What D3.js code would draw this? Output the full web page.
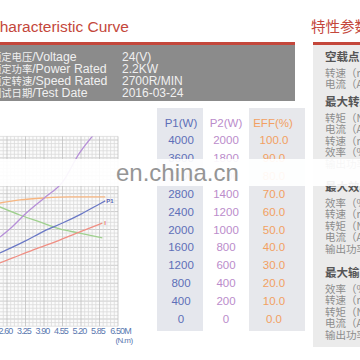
<!DOCTYPE html>
<html><head><meta charset="utf-8">
<script src="https://cdn.jsdelivr.net/npm/d3@7"></script>
<style>
body{margin:0;background:#fff}
svg{display:block}
text{font-family:"Liberation Sans",Arial,"Noto Sans CJK SC",sans-serif}
.cjk{font-family:"Noto Sans CJK SC",sans-serif}
</style>
</head><body><svg id="c" width="360" height="360"></svg>
<script>
// ---------- data ----------
const titleText = "Characteristic Curve";
const panelTitle = "特性参数";
const specLabelsCn = ["额定电压","额定功率","额定转速","测试日期"];
const specLabelsEn = ["/Voltage","/Power Rated","/Speed Rated","/Test Date"];
const specValues = ["24(V)","2.2KW","2700R/MIN","2016-03-24"];

const torqueTicks = [2.60,3.25,3.90,4.55,5.20,5.85,6.50];
const torqueTickLabels = ["2.60","3.25","3.90","4.55","5.20","5.85","6.50M"];
const torqueUnit = "(N.m)";

const tableHeaders = ["P1(W)","P2(W)","EFF(%)"];
const p1Ticks = [4000,3600,3200,2800,2400,2000,1600,1200,800,400,0];
const p2Ticks = [2000,1800,1600,1400,1200,1000,800,600,400,200,0];
const effTicks = [100,90,80,70,60,50,40,30,20,10,0];

// curves (torque in N.m)
const p1Torque = [2.35,3.25,3.90,4.55,5.20,5.85,6.05];
const p1Values = [1475,1745,1965,2145,2345,2570,2640];          // W
const p2Torque = [2.35,2.70,3.25,3.90,4.55,5.15,5.70];
const p2Values = [915,1005,1175,1350,1530,1855,2080];           // W
const effTorque = [2.35,3.05,3.90,4.80,6.05];
const effValues = [64.8,66.5,67.6,68.2,68.2];                   // %
const speedTorque = [2.35,3.05,3.75,4.45,5.15,5.95];
const speedValues = [62.6,58.1,54.2,50.3,48.0,45.3];            // % of chart height
const currentTorque = [2.35,2.80,3.50,4.20,5.05,5.95];
const currentValues = [31.3,34.1,38.5,42.5,48.0,53.6];          // % of chart height

const panelSections = ["空载点","最大转矩点","最大效率点","最大输出功率点"];
const panelItems = [
  ["转速（r/min）","电流（A）"],
  ["转矩（N.m）","电流（A）","转速（r/min）","效率（%）","输出功率（W）"],
  ["效率（%）","转速（r/min）","转矩（N.m）","电流（A）","输出功率（W）"],
  ["效率（%）","转速（r/min）","转矩（N.m）","电流（A）","输出功率（W）"]
];
const watermark = "en.china.cn";

// ---------- drawing ----------
const svg = d3.select("#c");
const red = "#c4473b";

// title
svg.append("text").attr("x",-11.5).attr("y",32).attr("font-size",15.5)
  .attr("fill",red).text(titleText);
svg.append("text").attr("class","cjk").attr("x",311).attr("y",32).attr("font-size",14.5)
  .attr("fill",red).text(panelTitle);
svg.append("rect").attr("x",0).attr("y",42).attr("width",295).attr("height",3).attr("fill",red);
svg.append("rect").attr("x",313).attr("y",42).attr("width",47).attr("height",3).attr("fill",red);

// spec box
svg.append("rect").attr("x",0).attr("y",45).attr("width",295).attr("height",56).attr("fill","#8b8b8b");
specLabelsCn.forEach((cn,i)=>{
  const yb = 61 + i*11.9;
  const t = svg.append("text").attr("x",-9).attr("y",yb).attr("fill","#f0f0f0");
  t.append("tspan").attr("class","cjk").attr("font-size",10.3).text(cn);
  t.append("tspan").attr("font-size",12.3).text(specLabelsEn[i]);
  svg.append("text").attr("x",122).attr("y",yb).attr("font-size",12).attr("fill","#f0f0f0").text(specValues[i]);
});

// right panel
svg.append("rect").attr("x",313).attr("y",45).attr("width",47).attr("height",302).attr("fill","#ebebeb");
const headerY = [61,106,191,277];
panelSections.forEach((s,i)=>{
  svg.append("text").attr("class","cjk").attr("x",325).attr("y",headerY[i]).attr("font-size",11.5)
    .attr("font-weight","bold").attr("fill","#555").text(s);
  panelItems[i].forEach((it,j)=>{
    svg.append("text").attr("class","cjk").attr("x",325).attr("y",headerY[i]+15.5+j*11.6)
      .attr("font-size",10.5).attr("fill","#8d8d8d").text(it);
  });
});

// scales
const x = d3.scaleLinear().domain([2.60,6.50]).range([7,118]);
const yEff = d3.scaleLinear().domain([0,100]).range([319,140]);
const yP1 = d3.scaleLinear().domain([0,4000]).range([319,140]);
const yP2 = d3.scaleLinear().domain([0,2000]).range([319,140]);

// table column backgrounds
svg.append("rect").attr("x",157).attr("y",108).attr("width",46).attr("height",223).attr("fill","#e5e7ed");
svg.append("rect").attr("x",249).attr("y",108).attr("width",56).attr("height",223).attr("fill","#e7e8ec");

// grid
const gTop = yEff(102), gBot = yEff(-4);
const grid = svg.append("g");
grid.append("rect").attr("x",0).attr("y",gTop).attr("width",118).attr("height",gBot-gTop).attr("fill","#fbfbfb");
d3.range(-4,103,2).forEach(p=>{
  grid.append("line").attr("x1",0).attr("x2",118).attr("y1",yEff(p)).attr("y2",yEff(p))
    .attr("stroke", p%10===0 ? "#c0c0c0" : "#dadada").attr("stroke-width",0.8);
});
d3.range(0,36).forEach(i=>{
  const t = 6.50 - i*0.13;
  const xx = x(t);
  if (xx < -1) return;
  grid.append("line").attr("x1",xx).attr("x2",xx).attr("y1",gTop).attr("y2",gBot)
    .attr("stroke", i%5===0 ? "#c0c0c0" : "#dadada").attr("stroke-width",0.8);
});

// curves
const clip = svg.append("clipPath").attr("id","gc");
clip.append("rect").attr("x",0).attr("y",gTop).attr("width",118).attr("height",gBot-gTop);
const curveG = svg.append("g").attr("clip-path","url(#gc)");
function drawCurve(ts, vs, ys, color){
  const line = d3.line().x((d,i)=>x(ts[i])).y(d=>ys(d)).curve(d3.curveMonotoneX);
  curveG.append("path").attr("d",line(vs)).attr("fill","none").attr("stroke",color).attr("stroke-width",1.3);
}
drawCurve(effTorque, effValues, yEff, "#f7b681");
drawCurve(speedTorque, speedValues, yEff, "#9fd08e");
drawCurve(currentTorque, currentValues, yEff, "#f08f84");
drawCurve(p1Torque, p1Values, yP1, "#6b79c6");
drawCurve(p2Torque, p2Values, yP2, "#b68fd8");

svg.append("text").attr("x",x(p1Torque[p1Torque.length-1])+1).attr("y",yP1(p1Values[p1Values.length-1])+2)
  .attr("font-size",6).attr("font-weight","bold").attr("fill","#5a66b8").text("P1");
svg.append("text").attr("x",x(currentTorque[currentTorque.length-1])+2).attr("y",yEff(currentValues[currentValues.length-1])+2)
  .attr("font-size",6).attr("font-weight","bold").attr("fill","#e8776c").text("I");

// x axis
const ax = svg.append("g").attr("transform","translate(0,325)")
  .call(d3.axisBottom(x).tickValues(torqueTicks).tickSize(0).tickPadding(3)
    .tickFormat((d,i)=>torqueTickLabels[i]));
ax.select(".domain").remove();
ax.selectAll("text").attr("font-size",9).attr("letter-spacing",-0.9).attr("fill","#5a78b0")
  .attr("font-family","'Liberation Sans Narrow','Liberation Sans',Arial,sans-serif")
  .attr("dx",(d,i)=> i===torqueTicks.length-1 ? 2 : -2);
svg.append("text").attr("x",124).attr("y",343).attr("text-anchor","middle").attr("font-size",8)
  .attr("letter-spacing",-0.6).attr("fill","#5a78b0").text(torqueUnit);

// table
const colX = [181,226,273];
const colColor = ["#5e6fb8","#bb8ccb","#f2a062"];
tableHeaders.forEach((h,i)=>{
  svg.append("text").attr("x",colX[i]).attr("y",127).attr("text-anchor","middle")
    .attr("font-size",11.5).attr("fill",colColor[i]).text(h);
});
p1Ticks.forEach((v,i)=>{
  svg.append("text").attr("x",colX[0]).attr("y",yP1(v)+4).attr("text-anchor","middle")
    .attr("font-size",11.5).attr("fill",colColor[0]).text(v);
});
p2Ticks.forEach((v,i)=>{
  svg.append("text").attr("x",colX[1]).attr("y",yP2(v)+4).attr("text-anchor","middle")
    .attr("font-size",11.5).attr("fill",colColor[1]).text(v);
});
effTicks.forEach((v,i)=>{
  svg.append("text").attr("x",colX[2]+1).attr("y",yEff(v)+4).attr("text-anchor","middle")
    .attr("font-size",11.5).attr("fill",colColor[2]).text(d3.format(".1f")(v));
});

// watermark band
svg.append("rect").attr("x",0).attr("y",159).attr("width",360).attr("height",27)
  .attr("fill","#ffffff").attr("opacity",0.92);
svg.append("text").attr("x",116).attr("y",181).attr("font-size",24).attr("fill","#959595").text(watermark);
</script>
</body></html>
